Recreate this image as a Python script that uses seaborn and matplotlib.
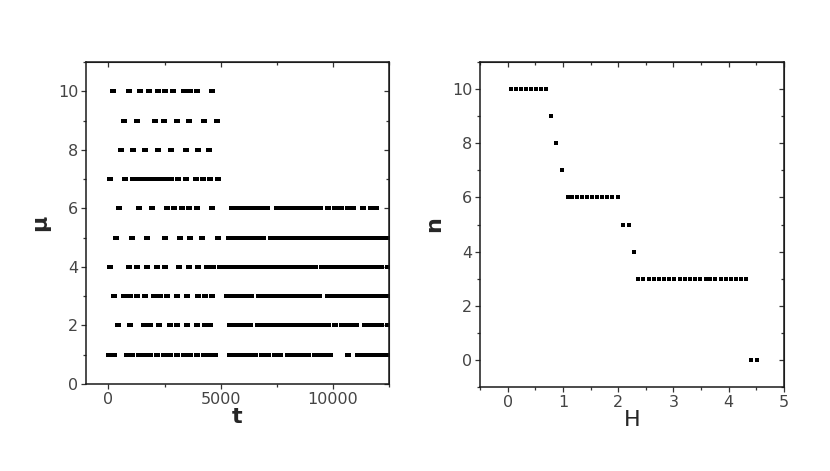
import numpy as np
import pandas as pd
import matplotlib
matplotlib.use("Agg")
import matplotlib.pyplot as plt
from matplotlib.ticker import MultipleLocator
from matplotlib.path import Path
import seaborn as sns

# left panel: t positions of the points for each mu level
mu10 = [200, 900, 1400, 1800, 2200, 2500, 2870, 3350, 3650, 3950, 4620]
mu9 = [680, 1290, 2070, 2460, 3050, 3570, 4240, 4830]
mu8 = [570, 1090, 1630, 2230, 2790, 3460, 3980, 4500]
mu7 = [60, 720, 1100, 1360, 1580, 1810, 2040, 2270, 2530, 2780, 3110, 3470,
       3880, 4200, 4520, 4880]
mu6 = [460, 1350, 1940, 2610, 2900, 3270, 3570, 3940, 4610,
       5500, 5720, 5940, 6160, 6380, 6600, 6820, 7060,
       7500, 7720, 7940, 8160, 8380, 8600, 8820, 9040, 9260, 9420,
       9790, 10080, 10380, 10680, 10900, 11340, 11720, 11940]
mu5 = [350, 1050, 1720, 2530, 3200, 3640, 4160, 4900,
       5350, 5570, 5790, 6010, 6230, 6450, 6670, 6900, 7250, 7470, 7690,
       7910, 8200, 8420, 8640, 8860, 9080, 9300, 9520, 9740, 9960, 10180,
       10400, 10620, 10840, 11060, 11280, 11500, 11720, 11940, 12160, 12400]
mu4 = [90, 900, 1270, 1720, 2160, 2530, 3130, 3570, 4010, 4390, 4680, 4980,
       5200, 5400, 5620, 5840, 6060, 6280, 6550, 6770, 6990, 7210, 7430,
       7650, 7870, 8090, 8310, 8530, 8750, 8970, 9190, 9500, 9720, 9940,
       10160, 10380, 10600, 10820, 11040, 11260, 11480, 11700, 11920, 12140,
       12460]
mu3 = [240, 680, 980, 1270, 1640, 2010, 2310, 2610, 3050, 3490, 4010, 4310,
       4600, 5270, 5490, 5710, 5930, 6150, 6370, 6700, 6920, 7140, 7360,
       7580, 7800, 8080, 8300, 8520, 8740, 8960, 9180, 9400, 9800, 10020,
       10240, 10460, 10680, 10900, 11120, 11340, 11560, 11780, 12000, 12220,
       12450]
mu2 = [430, 980, 1570, 1870, 2240, 2760, 3050, 3500, 3940, 4310, 4530,
       5420, 5640, 5860, 6080, 6300, 6680, 6900, 7120, 7340, 7560, 7800,
       8020, 8240, 8460, 8680, 8900, 9120, 9340, 9500, 9790, 10090, 10390,
       10610, 10830, 11050, 11420, 11720, 11940, 12160, 12460]
mu1 = [20, 240, 830, 1050, 1350, 1570, 1870, 2160, 2460, 2760, 3050, 3350,
       3640, 3940, 4240, 4530, 4760, 5420, 5640, 5860, 6080, 6300, 6530,
       6830, 7130, 7420, 7640, 8010, 8230, 8460, 8680, 8900, 9200, 9420,
       9640, 9870, 10680, 11130, 11350, 11570, 11790, 12010, 12240, 12460]

# right panel: H positions for each n level
n10 = [0.06, 0.15, 0.24, 0.33, 0.42, 0.51, 0.60, 0.70]
n9 = [0.79]
n8 = [0.88]
n7 = [0.99]
n6 = [1.09, 1.17, 1.26, 1.35, 1.44, 1.53, 1.62, 1.71, 1.80, 1.89, 2.00]
n5 = [2.09, 2.19]
n4 = [2.28]
n3 = [2.36, 2.45, 2.55, 2.64, 2.73, 2.83, 2.92, 3.01, 3.11, 3.20, 3.30,
      3.39, 3.48, 3.58, 3.67, 3.76, 3.86, 3.95, 4.04, 4.14, 4.23, 4.32]
n0 = [4.41, 4.51]

left_rows = {10: mu10, 9: mu9, 8: mu8, 7: mu7, 6: mu6, 5: mu5, 4: mu4,
             3: mu3, 2: mu2, 1: mu1}
right_rows = {10: n10, 9: n9, 8: n8, 7: n7, 6: n6, 5: n5, 4: n4, 3: n3,
              0: n0}

left_df = pd.DataFrame([(t, m) for m, ts in left_rows.items() for t in ts],
                       columns=["t", "mu"])
right_df = pd.DataFrame([(h, n) for n, hs in right_rows.items() for h in hs],
                        columns=["H", "n"])

sns.set_style("white")
plt.rcParams['font.family'] = ['DejaVu Sans']

# slightly wide rectangle, as in the original plot
rect = Path([(-1, -0.7), (1, -0.7), (1, 0.7), (-1, 0.7), (-1, -0.7)],
            [Path.MOVETO, Path.LINETO, Path.LINETO, Path.LINETO,
             Path.CLOSEPOLY])

fig = plt.figure(figsize=(8.3, 4.71), dpi=100)
ax1 = fig.add_axes([86 / 830, 1 - 384 / 471, 303 / 830, 322 / 471])
ax2 = fig.add_axes([480 / 830, 1 - 387 / 471, 304 / 830, 325 / 471])

sns.scatterplot(data=left_df, x="t", y="mu", ax=ax1, marker=rect, s=15,
                color="black", linewidth=0, legend=False)
sns.scatterplot(data=right_df, x="H", y="n", ax=ax2, marker="s", s=12.5,
                color="black", linewidth=0, legend=False)


def style_axes(ax, xlim, ylim, xmaj, xmin, ymaj, ymin):
    ax.set_xlim(*xlim)
    ax.set_ylim(*ylim)
    for sp in ax.spines.values():
        sp.set_visible(True)
        sp.set_color("#1a1a1a")
        sp.set_linewidth(1.1)
    ax.xaxis.set_major_locator(MultipleLocator(xmaj))
    ax.xaxis.set_minor_locator(MultipleLocator(xmin))
    ax.yaxis.set_major_locator(MultipleLocator(ymaj))
    ax.yaxis.set_minor_locator(MultipleLocator(ymin))
    ax.tick_params(which="both", direction="out", bottom=True, left=True,
                   color="#333333", width=0.9, labelsize=11.5,
                   labelcolor="#444444", pad=2)
    ax.tick_params(which="major", length=3.5)
    ax.tick_params(which="minor", length=2.5)
    top = ax.secondary_xaxis("top")
    top.xaxis.set_major_locator(MultipleLocator(xmaj))
    top.xaxis.set_minor_locator(MultipleLocator(xmin))
    top.tick_params(which="both", direction="in", labeltop=False,
                    color="#333333", width=0.9)
    top.tick_params(which="major", length=3.5)
    top.tick_params(which="minor", length=2.5)
    right = ax.secondary_yaxis("right")
    right.yaxis.set_major_locator(MultipleLocator(ymaj))
    right.yaxis.set_minor_locator(MultipleLocator(ymin))
    right.tick_params(which="both", direction="in", labelright=False,
                      color="#333333", width=0.9)
    right.tick_params(which="major", length=3.5)
    right.tick_params(which="minor", length=2.5)


style_axes(ax1, (-1000, 12500), (0, 11), 5000, 2500, 2, 1)
style_axes(ax2, (-0.5, 5), (-1, 11), 1, 0.5, 2, 1)

ax1.set_xlabel("t", fontsize=16, fontweight="bold", labelpad=0)
ax1.set_ylabel("μ", fontsize=16, fontweight="bold", labelpad=6)
ax2.set_xlabel("H", fontsize=16, labelpad=0)
ax2.set_ylabel("n", fontsize=16, fontweight="bold", labelpad=6)

fig.savefig("out.png", dpi=100)
